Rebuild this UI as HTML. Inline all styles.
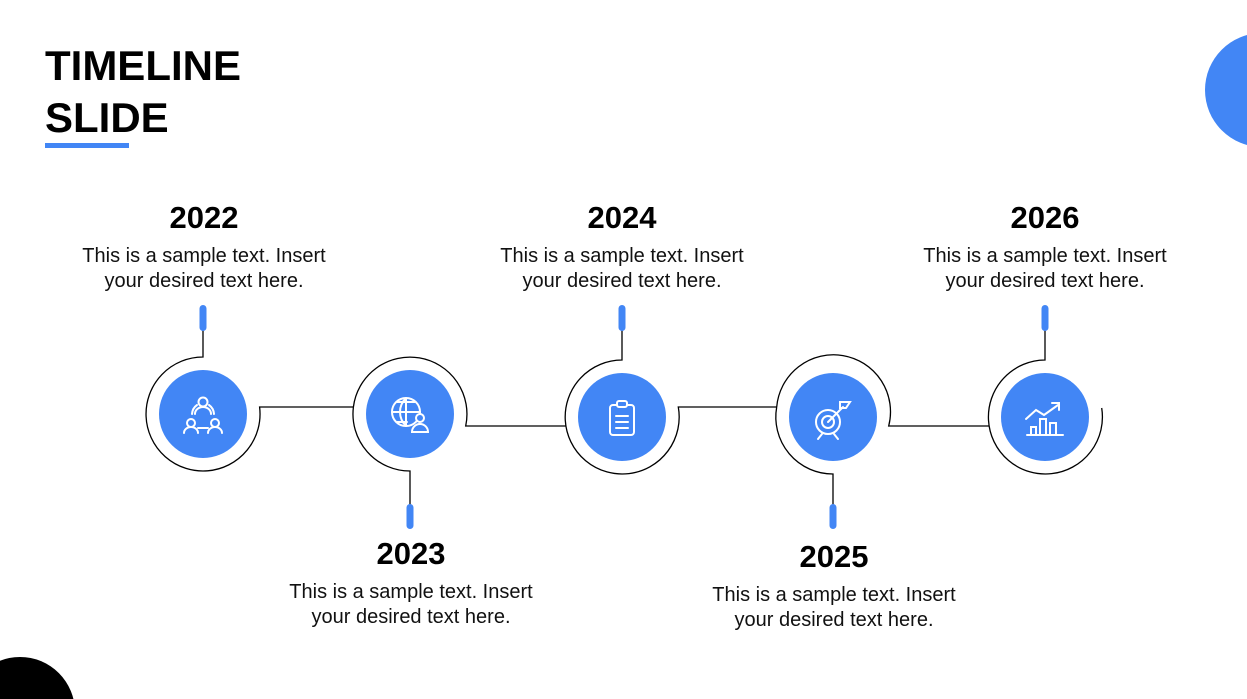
<!DOCTYPE html>
<html style="overflow:hidden"><head><style>
html,body{margin:0;width:1247px;height:699px;overflow:hidden}
body{background:#fff;font-family:"Liberation Sans",sans-serif;position:relative}
.t{position:absolute;font-weight:bold;font-size:42px;left:45px;line-height:52px;top:40px;color:#000}
.ul{position:absolute;left:45px;top:143px;width:84px;height:5px;background:#4286f5}
.blk{position:absolute;width:280px;text-align:center;color:#111}
.blk b{display:block;font-size:31px;line-height:36px;color:#000}
.blk p{margin:8px 0 0;font-size:20px;line-height:25px}
</style></head><body>
<div class="t">TIMELINE<br>SLIDE</div>
<div class="ul"></div>
<svg width="1247" height="699" style="position:absolute;left:0;top:0">
<circle cx="1262" cy="90" r="57" fill="#4286f5"/>
<circle cx="20" cy="712" r="55" fill="#000"/>
<g fill="none" stroke="#000" stroke-width="1.3">
<path d="M203 330 V357 A57 57 0 1 0 259.6 407 H353.4"/>
<path d="M353.4 407 A57 57 0 1 1 465.7 426 H565.7"/>
<path d="M353.4 407 A57 57 0 0 0 410 471 V505"/>
<path d="M622 330 V360 A57 57 0 1 0 678.3 407 H776.7"/>
<path d="M776.7 407 A57 57 0 1 1 888.7 426 H988.7"/>
<path d="M776.7 407 A57 57 0 0 0 833 474 V505"/>
<path d="M1045 330 V360 A57 57 0 1 0 1101.7 408"/>
</g>
<g fill="#4286f5">
<circle cx="203" cy="414" r="44"/><circle cx="410" cy="414" r="44"/><circle cx="622" cy="417" r="44"/><circle cx="833" cy="417" r="44"/><circle cx="1045" cy="417" r="44"/>
<rect x="199.5" y="305" width="7" height="26" rx="3.5"/><rect x="618.5" y="305" width="7" height="26" rx="3.5"/><rect x="1041.5" y="305" width="7" height="26" rx="3.5"/>
<rect x="406.5" y="504" width="7" height="25" rx="3.5"/><rect x="829.5" y="504" width="7" height="25" rx="3.5"/>
</g>
<g fill="none" stroke="#fff" stroke-width="2" stroke-linecap="round">
<circle cx="203" cy="402" r="4.5"/><path d="M195 414a8 7 0 0 1 16 0"/>
<circle cx="191" cy="423" r="4"/><path d="M184 433a7 6 0 0 1 14 0"/>
<circle cx="215" cy="423" r="4"/><path d="M208 433a7 6 0 0 1 14 0"/>
<path d="M198 428h10M192 414a12 12 0 0 1 5-9M214 414a12 12 0 0 0-5-9"/>
<circle cx="406" cy="412" r="14"/><path d="M392 412h28M406 398v28M397 402h18M397 422h10M406 398c-8 8-8 20 0 28"/>
<circle cx="420" cy="418" r="4" fill="#4286f5"/><path d="M412 432a8 8 0 0 1 16 0z" fill="#4286f5"/>
<rect x="610" y="405" width="24" height="30" rx="3"/><rect x="617" y="401" width="10" height="6" rx="2" fill="#4286f5"/><path d="M616 416h12M616 422h12M616 428h12"/>
<circle cx="828" cy="422" r="12"/><circle cx="828" cy="422" r="6"/><path d="M828 422 L843 407M822 434l-4 5M834 434l4 5M840 402v6h6l4-6h-6z"/>
<path d="M1027 435h36M1031 435v-8h5v8M1040 435v-16h6v16M1050 435v-12h6v12M1026 419l10-9 8 5 14-10M1052 403h7v7"/>
</g>
</svg>
<div class="blk" style="left:64px;top:200px"><b>2022</b><p>This is a sample text. Insert<br>your desired text here.</p></div>
<div class="blk" style="left:482px;top:200px"><b>2024</b><p>This is a sample text. Insert<br>your desired text here.</p></div>
<div class="blk" style="left:905px;top:200px"><b>2026</b><p>This is a sample text. Insert<br>your desired text here.</p></div>
<div class="blk" style="left:271px;top:536px"><b>2023</b><p>This is a sample text. Insert<br>your desired text here.</p></div>
<div class="blk" style="left:694px;top:539px"><b>2025</b><p>This is a sample text. Insert<br>your desired text here.</p></div>
</body></html>
